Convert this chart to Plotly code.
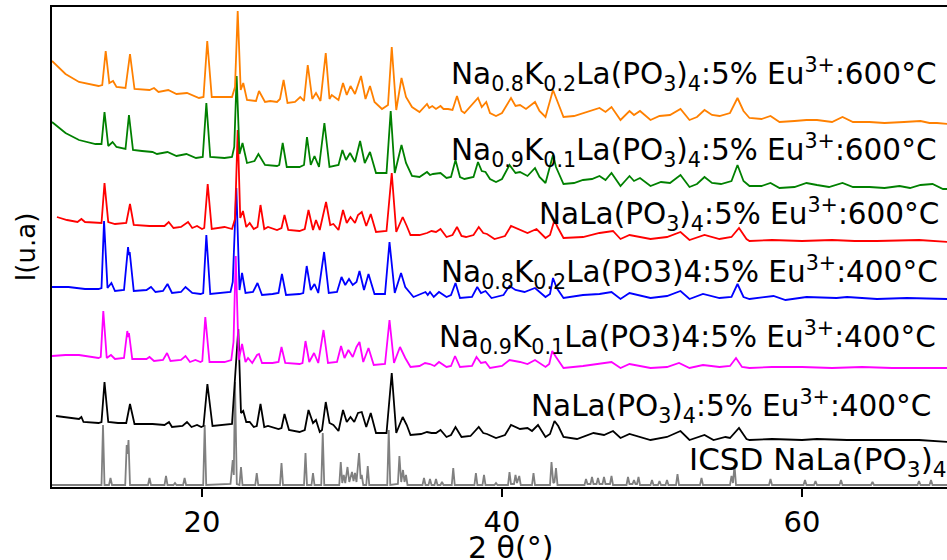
import plotly.graph_objects as go

# ---- data: (2theta, stacked intensity in arbitrary units) ----
ORANGE_600_K02 = [(10.0,426),(10.9,413),(11.8,405),(13.1,401),(13.35,402),(13.58,436),(13.82,404),(14.07,406),(14.3,400),(14.9,399),(15.2,433),(15.5,398),(16.5,397),(16.8,399),(17.1,395),(17.75,397),(18.3,393),(19.0,394),(19.8,389),(20.1,390),(20.35,446),(20.65,390),(21.0,390),(22.0,390),(22.2,400),(22.38,476),(22.58,397),(22.75,404),(23.0,387),(23.6,386),(23.8,396),(24.2,385),(24.55,386),(25.0,385),(25.2,388),(25.44,407),(25.7,384),(26.2,385),(26.55,390),(26.8,386),(27.05,422),(27.35,388),(27.6,394),(27.9,386),(28.25,434),(28.5,388),(28.65,392),(29.1,387),(29.4,404),(29.65,392),(29.9,401),(30.2,393),(30.6,411),(30.9,388),(31.2,401),(31.5,385),(32.0,378),(32.4,382),(32.65,440),(32.95,377),(33.3,409),(33.6,390),(34.0,380),(34.5,375),(35.0,383),(35.15,379),(35.35,381),(35.6,378),(35.9,381),(36.1,378),(36.4,378),(36.7,377),(37.0,391),(37.3,376),(37.5,374),(38.4,389),(38.65,380),(38.95,385),(39.2,374),(39.6,371),(40.0,374),(40.6,389),(40.9,381),(41.2,382),(41.6,378),(42.2,385),(42.5,376),(42.9,370),(43.4,397),(43.6,389),(43.9,378),(44.1,370),(44.8,371),(45.4,374),(45.9,376),(46.5,379),(46.9,375),(47.3,380),(47.9,367),(48.5,376),(48.8,372),(49.2,376),(49.9,367),(50.5,371),(51.2,372),(51.9,378),(52.5,367),(53.0,370),(53.5,377),(54.0,372),(54.5,371),(55.2,374),(55.7,389),(56.1,376),(56.5,369),(57.3,368),(57.9,371),(58.5,365),(59.5,366),(60.3,367),(61.0,367),(62.0,365),(62.7,370),(63.4,365),(64.5,365),(65.5,364),(66.8,365),(67.9,366),(68.5,364),(69.0,364),(69.7,363)]

GREEN_600_K01 = [(10.0,365),(10.9,354),(11.8,347),(12.9,343),(13.3,343),(13.5,375),(13.75,341),(14.04,345),(14.3,340),(14.9,338),(15.13,372),(15.4,337),(16.0,336),(16.7,335),(17.0,333),(17.7,335),(18.3,331),(18.96,333),(19.6,329),(20.05,330),(20.29,384),(20.55,330),(21.5,329),(22.0,330),(22.15,340),(22.31,411),(22.5,333),(22.7,344),(23.0,324),(23.5,326),(23.76,333),(24.2,322),(25.0,321),(25.15,322),(25.38,344),(25.65,320),(26.5,320),(26.8,322),(27.0,350),(27.25,322),(27.5,331),(27.8,320),(28.16,364),(28.5,320),(29.1,322),(29.36,337),(29.6,327),(29.87,334),(30.2,325),(30.54,346),(30.85,324),(31.2,335),(31.6,314),(32.3,314),(32.58,376),(32.85,314),(33.3,342),(33.6,324),(34.0,311),(34.5,310),(35.0,315),(35.2,312),(35.4,313),(35.9,314),(36.3,309),(36.6,310),(36.9,327),(37.2,310),(37.5,308),(38.1,310),(38.4,325),(38.65,316),(38.9,315),(39.2,308),(39.6,305),(40.0,308),(40.5,322),(40.9,314),(41.2,315),(41.7,311),(42.2,319),(42.5,310),(42.9,304),(43.4,332),(43.6,320),(43.9,310),(44.1,303),(44.8,304),(45.4,307),(46.0,308),(46.5,311),(46.9,307),(47.3,314),(47.9,301),(48.5,311),(48.8,306),(49.2,309),(49.9,301),(50.6,305),(51.2,304),(51.9,312),(52.5,300),(53.0,303),(53.5,310),(54.0,304),(54.6,303),(55.3,306),(55.7,322),(56.1,306),(56.5,301),(57.3,301),(57.9,304),(58.5,299),(59.5,300),(60.3,304),(61.0,302),(61.8,300),(62.7,304),(63.4,300),(64.5,300),(65.5,299),(66.5,301),(67.2,299),(67.9,302),(68.7,303),(69.4,298),(69.7,298)]

RED_600_NA = [(10.33,270),(11.0,267),(11.7,265),(11.96,268),(12.2,265),(13.1,264),(13.3,264),(13.5,304),(13.75,265),(14.2,263),(14.95,264),(15.2,283),(15.45,262),(16.5,261),(17.5,261),(17.78,265),(18.1,259),(18.6,260),(19.07,265),(19.35,259),(19.67,261),(20.0,258),(20.15,259),(20.38,303),(20.65,258),(21.5,260),(22.0,258),(22.2,268),(22.38,357),(22.55,269),(22.73,276),(22.95,260),(23.18,264),(23.45,258),(23.7,260),(23.9,282),(24.15,258),(24.4,260),(25.0,257),(25.3,259),(25.5,272),(25.75,257),(26.5,256),(26.85,258),(27.1,277),(27.4,257),(27.6,267),(27.85,257),(28.27,285),(28.55,262),(28.76,263),(29.1,257),(29.4,277),(29.65,264),(29.9,270),(30.2,264),(30.4,272),(30.65,275),(30.95,261),(31.25,273),(31.6,255),(32.3,256),(32.65,314),(32.95,255),(33.38,270),(33.65,261),(33.9,252),(34.5,252),(35.0,254),(35.3,256),(35.6,255),(35.9,258),(36.3,250),(36.7,252),(37.0,260),(37.3,251),(37.6,250),(38.1,252),(38.45,260),(38.75,254),(39.0,253),(39.5,248),(40.2,251),(40.6,261),(41.2,257),(41.7,254),(42.3,258),(42.9,249),(43.2,252),(43.5,267),(43.7,260),(44.1,249),(45.4,250),(46.5,254),(47.4,256),(47.9,248),(48.5,252),(49.9,248),(51.0,250),(51.9,255),(52.5,247),(53.5,252),(54.5,248),(55.3,250),(55.8,259),(56.3,248),(56.5,246),(58.0,247),(60.0,246),(62.0,247),(63.5,246),(65.0,246),(67.8,247),(68.7,246),(69.7,245)]

BLUE_400_K02 = [(10.0,200),(11.1,200),(12.2,198),(13.1,198),(13.3,199),(13.47,266),(13.7,199),(13.96,204),(14.2,196),(14.8,197),(15.07,240),(15.13,232),(15.18,235),(15.45,196),(16.3,197),(16.6,200),(16.9,195),(17.4,196),(17.7,203),(18.0,194),(18.6,195),(18.9,200),(19.35,194),(19.9,193),(20.08,194),(20.29,252),(20.55,193),(21.5,194),(21.9,195),(22.05,205),(22.29,299),(22.5,197),(22.67,214),(22.9,194),(23.4,195),(23.7,204),(24.0,192),(24.7,193),(25.1,194),(25.33,213),(25.6,192),(26.5,193),(26.75,194),(26.98,221),(27.25,197),(27.5,203),(27.75,194),(28.14,235),(28.45,194),(29.0,195),(29.3,210),(29.55,202),(29.8,208),(30.05,202),(30.3,205),(30.5,216),(30.8,197),(31.1,213),(31.5,193),(32.2,193),(32.5,245),(32.85,194),(33.27,214),(33.55,200),(34.1,190),(34.9,195),(35.05,192),(35.2,195),(35.45,190),(35.8,195),(36.3,190),(36.6,192),(36.9,204),(37.2,189),(38.0,190),(38.35,200),(38.6,194),(38.9,196),(39.3,189),(40.1,192),(40.5,201),(40.9,197),(41.5,195),(42.2,199),(42.9,190),(43.2,193),(43.4,209),(43.65,199),(44.1,189),(45.4,192),(46.5,193),(47.3,195),(47.9,188),(48.5,194),(49.9,189),(51.0,191),(51.9,196),(52.5,188),(53.4,193),(54.5,189),(55.3,190),(55.7,203),(56.1,190),(56.5,188),(58.1,191),(58.9,187),(60.3,190),(62.3,189),(63.0,190),(65.0,188),(67.0,189),(69.7,188)]

MAGENTA_400_K01 = [(10.0,131),(10.9,132),(11.8,132),(13.1,129),(13.25,130),(13.42,176),(13.65,129),(13.93,132),(14.2,128),(14.8,129),(15.02,156),(15.08,150),(15.13,154),(15.35,128),(16.3,128),(16.5,130),(16.8,126),(17.4,127),(17.67,134),(17.9,126),(18.6,127),(18.9,131),(19.2,125),(19.56,127),(19.9,125),(20.02,126),(20.22,170),(20.5,125),(21.5,125),(21.95,127),(22.1,145),(22.25,231),(22.45,127),(22.67,143),(22.9,125),(23.07,129),(23.35,124),(23.67,132),(23.8,133),(24.0,124),(24.7,124),(25.1,125),(25.3,140),(25.55,124),(26.5,123),(26.7,124),(26.9,146),(27.15,125),(27.47,134),(27.75,124),(28.1,157),(28.4,124),(29.0,125),(29.27,141),(29.5,129),(29.76,137),(30.05,130),(30.3,140),(30.5,145),(30.75,125),(31.1,139),(31.45,122),(32.2,123),(32.5,167),(32.8,124),(33.2,140),(33.55,129),(33.9,120),(34.5,121),(34.87,124),(35.2,123),(35.5,121),(35.8,125),(36.3,120),(36.6,121),(36.87,131),(37.2,120),(38.0,121),(38.3,130),(38.6,124),(38.9,125),(39.2,119),(40.0,121),(40.5,127),(41.2,125),(41.7,123),(42.2,127),(42.9,120),(43.15,123),(43.35,136),(43.6,130),(44.1,119),(45.4,121),(46.5,123),(47.3,125),(47.9,119),(48.5,123),(49.9,119),(51.0,120),(51.8,124),(52.5,119),(53.4,122),(54.5,120),(55.2,121),(55.6,129),(56.0,120),(56.5,119),(58.0,120),(60.0,120),(62.0,119),(64.0,120),(66.0,119),(69.7,119)]

BLACK_400_NA = [(10.27,71),(11.1,69),(11.8,68),(11.96,70),(12.1,65),(13.1,64),(13.3,65),(13.5,105),(13.75,65),(14.4,64),(14.95,64),(15.2,83),(15.5,63),(16.4,63),(16.7,63),(17.5,62),(17.8,65),(18.0,60),(18.7,61),(19.0,65),(19.3,60),(19.67,62),(19.95,60),(20.1,61),(20.36,103),(20.7,61),(21.6,62),(22.0,63),(22.18,104),(22.42,158),(22.6,74),(22.75,76),(22.95,65),(23.18,65),(23.45,60),(23.65,61),(23.9,83),(24.15,60),(24.4,61),(25.1,58),(25.3,59),(25.5,73),(25.8,57),(26.5,55),(26.85,57),(27.1,77),(27.4,64),(27.6,67),(27.85,55),(28.0,57),(28.25,85),(28.5,64),(28.76,62),(29.1,56),(29.4,77),(29.65,65),(29.9,70),(30.15,65),(30.4,74),(30.65,75),(30.95,60),(31.25,74),(31.6,54),(32.3,54),(32.65,114),(32.95,54),(33.38,70),(33.65,62),(33.9,52),(34.6,53),(35.0,55),(35.3,54),(35.6,54),(35.9,57),(36.3,50),(36.6,52),(36.9,60),(37.3,50),(37.9,51),(38.45,60),(38.75,54),(39.0,53),(39.6,49),(40.2,52),(40.6,62),(41.2,58),(41.7,59),(42.0,56),(42.4,62),(42.9,50),(43.2,53),(43.5,66),(43.75,61),(44.1,50),(45.0,48),(46.1,54),(46.8,52),(47.4,56),(47.9,49),(48.5,53),(49.9,47),(51.0,50),(51.9,56),(52.5,47),(53.5,52),(54.1,47),(54.9,50),(55.2,49),(55.8,59),(56.3,48),(56.5,47),(58.0,48),(60.0,47),(61.0,48),(63.0,47),(65.0,47),(67.8,47),(69.7,45)]

GRAY_ICSD = [(10.0,2),(13.3,2),(13.4,62),(13.5,2),(13.8,2),(13.9,9),(14.0,2),(14.88,2),(14.98,42),(15.04,33),(15.1,47),(15.2,2),(16.4,2),(16.5,9),(16.6,2),(17.5,2),(17.6,11),(17.7,2),(18.1,2),(18.2,4),(18.3,2),(18.74,2),(18.84,9),(18.94,2),(20.08,2),(20.18,62),(20.28,2),(21.9,3),(22.05,27),(22.12,12),(22.2,105),(22.32,3),(22.5,2),(22.6,20),(22.7,2),(23.55,2),(23.65,14),(23.75,2),(25.2,2),(25.3,24),(25.4,2),(26.8,2),(26.9,34),(27.0,2),(27.3,2),(27.4,14),(27.5,2),(27.95,2),(28.05,54),(28.15,2),(29.15,2),(29.25,25),(29.35,4),(29.45,12),(29.55,4),(29.7,20),(29.82,5),(30.0,15),(30.1,6),(30.2,14),(30.3,5),(30.47,34),(30.58,8),(30.65,12),(30.75,2),(30.95,2),(31.05,21),(31.15,2),(32.35,2),(32.45,57),(32.55,2),(33.06,3),(33.16,31),(33.28,5),(33.4,17),(33.5,5),(33.6,12),(33.7,2),(34.7,2),(34.8,9),(34.9,2),(35.1,2),(35.2,8),(35.3,2),(35.5,2),(35.6,8),(35.7,2),(35.9,2),(36.0,5),(36.1,2),(36.65,2),(36.75,19),(36.85,2),(38.16,2),(38.26,14),(38.36,2),(38.7,2),(38.8,12),(38.9,2),(39.5,2),(39.6,4),(39.7,2),(40.4,2),(40.5,15),(40.6,3),(40.8,3),(40.9,12),(41.0,4),(41.15,11),(41.25,2),(42.0,2),(42.1,14),(42.2,2),(43.2,2),(43.3,25),(43.42,4),(43.5,5),(43.6,19),(43.7,2),(45.5,2),(45.6,8),(45.7,3),(45.9,3),(46.0,10),(46.1,3),(46.3,3),(46.4,9),(46.5,3),(46.7,3),(46.8,10),(46.9,3),(47.2,3),(47.3,11),(47.4,2),(48.3,2),(48.4,10),(48.5,3),(48.7,3),(48.8,7),(48.9,3),(49.0,3),(49.1,10),(49.2,2),(49.9,2),(50.0,7),(50.1,2),(50.4,2),(50.5,6),(50.6,2),(50.9,2),(51.0,7),(51.1,2),(51.6,2),(51.7,13),(51.8,2),(53.2,2),(53.3,9),(53.4,2),(55.2,2),(55.3,11),(55.4,4),(55.5,22),(55.6,2),(57.8,2),(57.9,8),(58.0,2),(60.1,2),(60.2,7),(60.3,2),(60.8,2),(60.9,6),(61.0,2),(62.5,2),(62.6,7),(62.7,2),(64.6,2),(64.7,5),(64.8,2),(67.7,2),(67.8,6),(67.9,2),(68.5,2),(68.6,7),(68.7,2),(69.7,2)]

LABELS = [
    "Na<sub>0.8</sub>K<sub>0.2</sub>La(PO<sub>3</sub>)<sub>4</sub>:5% Eu<sup>3+</sup>:600°C",
    "Na<sub>0.9</sub>K<sub>0.1</sub>La(PO<sub>3</sub>)<sub>4</sub>:5% Eu<sup>3+</sup>:600°C",
    "NaLa(PO<sub>3</sub>)<sub>4</sub>:5% Eu<sup>3+</sup>:600°C",
    "Na<sub>0.8</sub>K<sub>0.2</sub>La(PO3)4:5% Eu<sup>3+</sup>:400°C",
    "Na<sub>0.9</sub>K<sub>0.1</sub>La(PO3)4:5% Eu<sup>3+</sup>:400°C",
    "NaLa(PO<sub>3</sub>)<sub>4</sub>:5% Eu<sup>3+</sup>:400°C",
    "ICSD NaLa(PO<sub>3</sub>)<sub>4</sub>",
]
X_TICKS = [20, 40, 60]
X_TITLE = "2 θ(°)"
Y_TITLE = "I(u.a)"

FONT = "DejaVu Sans"

series = [
    (GRAY_ICSD, "#808080"),
    (BLACK_400_NA, "#000000"),
    (MAGENTA_400_K01, "#ff00ff"),
    (BLUE_400_K02, "#0000ff"),
    (RED_600_NA, "#ff0000"),
    (GREEN_600_K01, "#008000"),
    (ORANGE_600_K02, "#ff8000"),
]

fig = go.Figure()
for pts, col in series:
    fig.add_trace(go.Scatter(
        x=[p[0] for p in pts], y=[p[1] for p in pts], mode="lines",
        line=dict(color=col, width=1.8), hoverinfo="skip", showlegend=False))

# label placements: (x anchor in 2theta, y centre, xanchor, font size)
label_pos = [
    (69.07, 413, "right", 29.5),
    (69.07, 337, "right", 29.5),
    (69.27, 273, "right", 29.5),
    (69.20, 215, "right", 29.5),
    (69.07, 150, "right", 29.5),
    (68.73, 81, "right", 29.5),
    (52.33, 26, "left", 31),
]
for txt, (lx, ly, anc, fs) in zip(LABELS, label_pos):
    fig.add_annotation(x=lx, y=ly, xref="x", yref="y", text=txt, showarrow=False,
                       xanchor=anc, yanchor="middle",
                       font=dict(family=FONT, size=fs, color="black"))

fig.add_annotation(x=0.5128, y=-0.126, xref="paper", yref="paper", text=X_TITLE,
                   showarrow=False, xanchor="center", yanchor="middle",
                   font=dict(family=FONT, size=30, color="black"))

fig.update_layout(
    width=947, height=560,
    margin=dict(l=52, r=0, t=7, b=73),
    paper_bgcolor="white", plot_bgcolor="white",
    showlegend=False,
    xaxis=dict(range=[10, 69.667], tickvals=X_TICKS, ticks="outside", ticklen=8,
               tickwidth=2, tickcolor="black", showline=True, linecolor="black",
               linewidth=2, mirror=True, showgrid=False, zeroline=False,
               tickfont=dict(family=FONT, size=29, color="black")),
    yaxis=dict(range=[0, 480], showline=True, linecolor="black", linewidth=2,
               showticklabels=False, ticks="", showgrid=False, zeroline=False,
               title=dict(text=Y_TITLE, standoff=7,
                          font=dict(family=FONT, size=26, color="black"))),
)

fig.write_html("out.html", config={"displayModeBar": False},
               post_script="document.body.style.margin='0';document.body.style.overflow='hidden';")
